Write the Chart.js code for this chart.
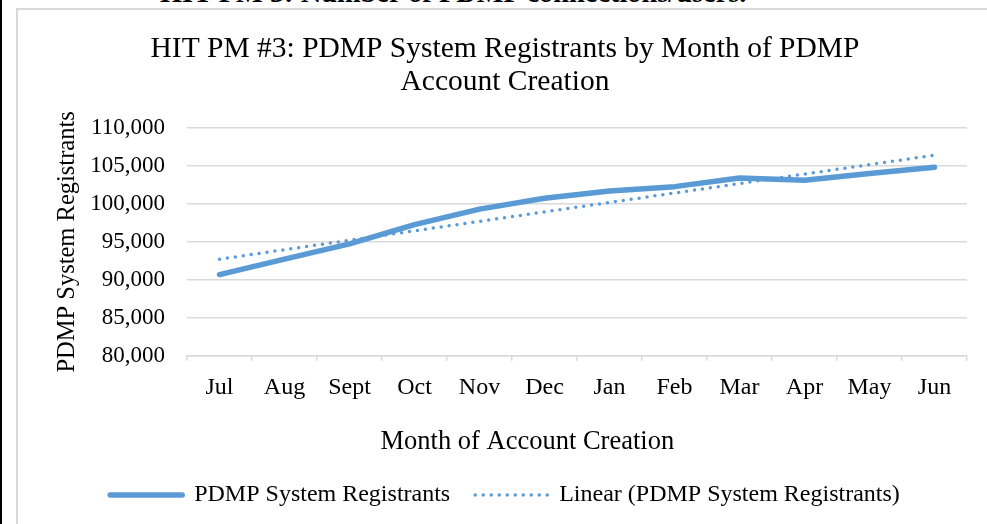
<!DOCTYPE html>
<html>
<head>
<meta charset="utf-8">
<script src="https://cdn.jsdelivr.net/npm/chart.js@4"></script>
<style>
  html, body { margin: 0; padding: 0; width: 987px; height: 524px; overflow: hidden; background: #fff; }
  .page-rule { position: absolute; left: 0; top: 0; width: 2px; height: 524px; background: #000; }
  .cut-heading {
    position: absolute; left: 160px; top: -22px; white-space: nowrap;
    font: bold 28.4px "Liberation Serif", "Times New Roman", serif; line-height: 30px; color: #000;
  }
  .frame { position: absolute; left: 16px; top: 8px; width: 1000px; height: 560px; border: 2px solid #d9d9d9; box-sizing: border-box; }
  #chart { position: absolute; left: 43px; top: 8px; }
</style>
</head>
<body>
<div class="page-rule"></div>
<div class="cut-heading">HIT PM 3: Number of PDMP connections/users.</div>
<div class="frame"></div>
<canvas id="chart" width="926" height="516"></canvas>
<script>
const months = ['Jul', 'Aug', 'Sept', 'Oct', 'Nov', 'Dec', 'Jan', 'Feb', 'Mar', 'Apr', 'May', 'Jun'];
const registrants = [90700, 92730, 94750, 97270, 99320, 100760, 101710, 102280, 103410, 103110, 104020, 104840];
const yMin = 80000;
const yMax = 110000;
const yStep = 5000;

const serif = '"Liberation Serif", "Times New Roman", serif';
const blue = '#5b9bd5';
const gridGray = '#d9d9d9';

// least squares trend line, same as the Excel "Linear" trendline
const n = registrants.length;
const xMean = (n - 1) / 2;
const yMean = registrants.reduce((a, b) => a + b, 0) / n;
let sxy = 0;
let sxx = 0;
registrants.forEach((v, i) => {
  sxy += (i - xMean) * (v - yMean);
  sxx += (i - xMean) * (i - xMean);
});
const slope = sxy / sxx;
const trendValues = registrants.map((v, i) => yMean + slope * (i - xMean));

new Chart(document.getElementById('chart'), {
  type: 'line',
  data: {
    labels: months,
    datasets: [
      {
        label: 'PDMP System Registrants',
        data: registrants,
        borderColor: blue,
        backgroundColor: blue,
        borderWidth: 5.5,
        borderCapStyle: 'round',
        borderJoinStyle: 'round',
        pointRadius: 0,
        tension: 0,
      },
      {
        label: 'Linear (PDMP System Registrants)',
        data: trendValues,
        borderColor: blue,
        backgroundColor: blue,
        borderWidth: 3.5,
        borderDash: [0, 8],
        borderCapStyle: 'round',
        pointRadius: 0,
        tension: 0,
      },
    ],
  },
  options: {
    responsive: false,
    animation: false,
    devicePixelRatio: 1,
    layout: { padding: { left: 0, right: 2, top: 0, bottom: 7 } },
    scales: {
      x: {
        offset: true,
        grid: { drawOnChartArea: false, drawTicks: true, tickLength: 5, color: gridGray, lineWidth: 1.5, offset: true },
        border: { color: gridGray, width: 1.5 },
        ticks: { color: '#000', padding: 13, font: { family: serif, size: 24 }, maxRotation: 0 },
        title: {
          display: true,
          // trailing spaces nudge the centred title left like the original
          text: 'Month of Account Creation' + '\u00a0'.repeat(15),
          color: '#000',
          font: { family: serif, size: 26.5 },
          padding: { top: 10.6, bottom: 0 },
        },
      },
      y: {
        min: yMin,
        max: yMax,
        grid: { color: gridGray, lineWidth: 1.5, drawTicks: false },
        border: { display: false },
        ticks: {
          stepSize: yStep,
          color: '#000',
          padding: 22,
          font: { family: serif, size: 23 },
          callback: (v) => v.toLocaleString('en-US'),
        },
        title: {
          display: true,
          text: 'PDMP System Registrants',
          color: '#000',
          font: { family: serif, size: 24.5 },
          padding: { top: 10.3, bottom: 0 },
        },
        afterFit: (scale) => {
          scale.width = 144;
        },
      },
    },
    plugins: {
      title: {
        display: true,
        text: ['HIT PM #3: PDMP System Registrants by Month of PDMP', 'Account Creation'],
        color: '#000',
        font: { family: serif, size: 29.5, weight: 'normal', lineHeight: 1.119 },
        padding: { top: 24.5, bottom: 29.5 },
      },
      legend: {
        position: 'bottom',
        labels: {
          boxWidth: 72,
          boxHeight: 0,
          color: '#000',
          padding: 25,
          font: { family: serif, size: 24 },
        },
      },
      tooltip: { enabled: false },
    },
  },
});
</script>
</body>
</html>
